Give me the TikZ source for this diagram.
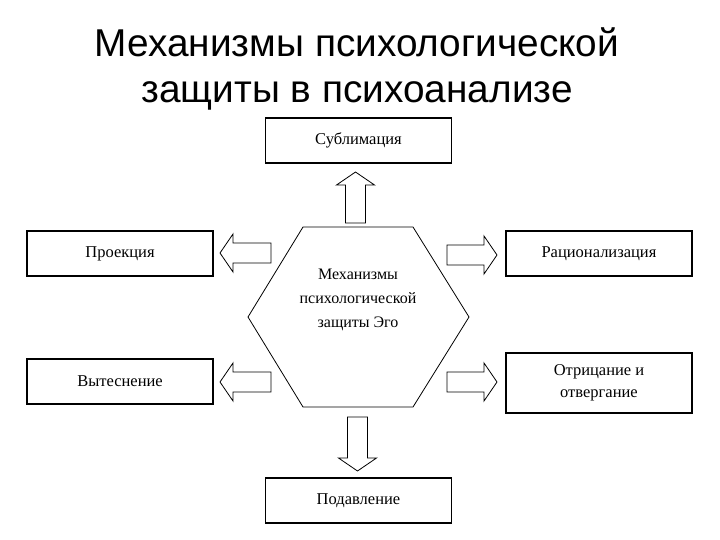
\documentclass[tikz,border=0pt]{standalone}
\usepackage{fontspec}
\setmainfont{Liberation Serif}
\newfontfamily\titlefont{Liberation Sans}
\usetikzlibrary{calc}

% block arrow from #1 to #2
\newcommand{\blkarrow}[2]{%
  \coordinate (hb) at ($(#2)!13pt!(#1)$);
  \draw[arrowline] ($(#1)!10pt!90:(#2)$) -- ($(hb)!10pt!90:(#2)$) -- ($(hb)!19pt!90:(#2)$)
    -- (#2) -- ($(hb)!19pt!-90:(#2)$) -- ($(hb)!10pt!-90:(#2)$) -- ($(#1)!10pt!-90:(#2)$) -- cycle;}

\begin{document}
\begin{tikzpicture}[x=1pt,y=-1pt]
        \tikzstyle{every node}+=[inner sep=0pt]
        \tikzstyle{box}=[draw, line width=1.2pt, minimum width=186pt, minimum height=45pt, align=center, font=\fontsize{16.5}{22}\selectfont]
        \tikzstyle{arrowline}=[line width=0.8pt, line join=miter]
        \tikzstyle{titletext}=[anchor=base, font=\titlefont\fontsize{38.8}{46}\selectfont]
        \useasboundingbox (0,0) rectangle (720,540);
        % title
        \node [titletext] (title1) at (357,57) {Механизмы психологической};
        \node [titletext] (title2) at (357,103) {защиты в психоанализе};
        % hexagon
        \draw [line width=0.8pt] (303,227) -- (413,227) -- (469,317) -- (413,407) -- (303,407) -- (248,317) -- cycle;
        \node [align=center, font=\fontsize{16}{24}\selectfont] (ego) at (358,300) {Механизмы\\психологической\\защиты Эго};
        % boxes
        \node [box] (subl) at (358.5,140.5) {Сублимация};
        \node [box] (proj) at (120,253.5) {Проекция};
        \node [box] (vyt) at (120,381.5) {Вытеснение};
        \node [box] (rats) at (599,253.5) {Рационализация};
        \node [box, minimum height=60pt] (otr) at (599,383) {Отрицание и\\отвергание};
        \node [box] (podav) at (358.5,500.5) {Подавление};
        % arrows
        \coordinate (upA) at (355.5,223);
        \coordinate (upB) at (355.5,172);
        \coordinate (dnA) at (357.5,417);
        \coordinate (dnB) at (357.5,471);
        \coordinate (lfA) at (271,253);
        \coordinate (lfB) at (220,253);
        \coordinate (llA) at (271,382);
        \coordinate (llB) at (220,382);
        \coordinate (rtA) at (447,255);
        \coordinate (rtB) at (497,255);
        \coordinate (rlA) at (447,382);
        \coordinate (rlB) at (497,382);
        \blkarrow{upA}{upB}
        \blkarrow{dnA}{dnB}
        \blkarrow{lfA}{lfB}
        \blkarrow{llA}{llB}
        \blkarrow{rtA}{rtB}
        \blkarrow{rlA}{rlB}
\end{tikzpicture}
\end{document}
